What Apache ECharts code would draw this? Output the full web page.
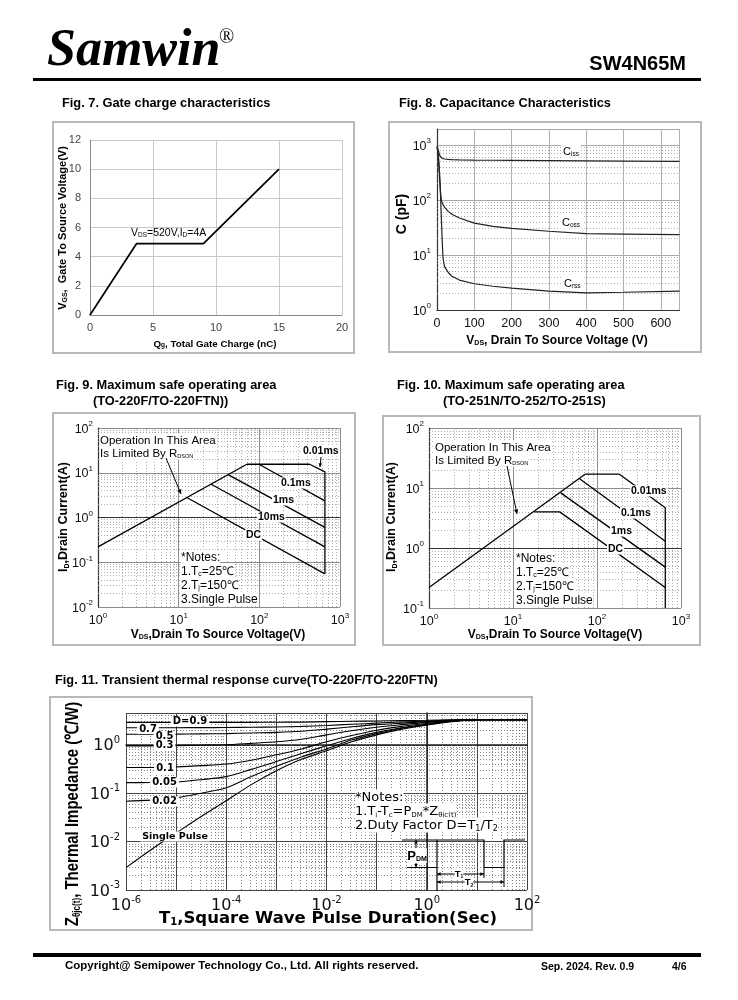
<!DOCTYPE html>
<html><head><meta charset="utf-8">
<script src="https://cdn.jsdelivr.net/npm/echarts@6.0.0/dist/echarts.min.js"></script>
<style>html,body{margin:0;padding:0;background:#fff;}#c{width:738px;height:1000px;}</style>
</head><body><div id="c"></div>
<script>
// ---------------- DATA ----------------
// Fig. 7 gate charge
const gateChargeQ = [0, 3.7, 9.0, 15.0];
const gateChargeV = [0, 4.9, 4.9, 10.0];
// Fig. 8 capacitance (V, pF)
const capV  = [0, 2, 4, 6, 8, 10, 12, 14, 16, 20, 30, 40, 60, 100, 150, 200, 300, 400, 500, 650];
const cissPF = [950, 880, 780, 690, 630, 600, 580, 570, 562, 555, 545, 540, 535, 530, 527, 525, 520, 515, 510, 505];
const cossPF = [900, 800, 520, 320, 190, 125, 97, 88, 82, 74, 62, 55, 47, 38, 33, 30.5, 27, 24.5, 24, 23.5];
const crssPF = [900, 820, 620, 400, 220, 100, 40, 18, 9, 6.2, 4.8, 4.1, 3.5, 3.0, 2.7, 2.5, 2.2, 2.05, 2.1, 2.2];
// Fig. 9 SOA TO-220F (V, A)
const soa9Rdson = [[1, 0.22], [70, 15.5]];
const soa9_001ms = [[70, 15.5], [420, 15.5], [650, 10.5], [650, 0.055]];
const soa9_01ms = [[99, 15.5], [650, 2.35]];
const soa9_1ms = [[41, 9.1], [650, 0.6]];
const soa9_10ms = [[25, 5.6], [650, 0.22]];
const soa9_DC = [[12.6, 2.8], [650, 0.055]];
// Fig. 10 SOA TO-251N/TO-252 (V, A)
const soa10Rdson = [[1, 0.22], [72, 17]];
const soa10_001ms = [[72, 17], [185, 17], [650, 4.7], [650, 0.1]];
const soa10_01ms = [[62, 14.3], [650, 1.3]];
const soa10_1ms = [[37, 8.3], [650, 0.48]];
const soa10_DC = [[18, 4.0], [36, 4.0], [650, 0.22]];
// Fig. 11 transient thermal impedance (s, °C/W)
const zthT = [1e-6, 3.16e-6, 1e-5, 3.16e-5, 1e-4, 3.16e-4, 1e-3, 3.16e-3, 1e-2, 3.16e-2, 1e-1, 3.16e-1, 1, 3.16, 10, 31.6, 100];
const zthD09 = [2.9, 2.9, 2.9, 2.9, 2.9, 2.9, 2.92, 2.94, 3.0, 3.05, 3.1, 3.15, 3.2, 3.27, 3.3, 3.3, 3.3];
const zthD07 = [2.25, 2.25, 2.25, 2.26, 2.27, 2.3, 2.33, 2.4, 2.5, 2.65, 2.8, 2.95, 3.1, 3.22, 3.3, 3.3, 3.3];
const zthD05 = [1.65, 1.65, 1.66, 1.68, 1.7, 1.75, 1.8, 1.9, 2.1, 2.35, 2.6, 2.8, 3.0, 3.18, 3.3, 3.3, 3.3];
const zthD03 = [0.95, 0.95, 0.96, 0.98, 1.0, 1.07, 1.15, 1.3, 1.6, 1.95, 2.3, 2.6, 2.9, 3.15, 3.3, 3.3, 3.3];
const zthD01 = [0.34, 0.34, 0.35, 0.37, 0.4, 0.48, 0.62, 0.82, 1.15, 1.55, 2.0, 2.4, 2.75, 3.1, 3.3, 3.3, 3.3];
const zthD005 = [0.165, 0.166, 0.17, 0.19, 0.22, 0.31, 0.45, 0.66, 0.95, 1.35, 1.8, 2.25, 2.65, 3.05, 3.3, 3.3, 3.3];
const zthD002 = [0.068, 0.072, 0.08, 0.1, 0.13, 0.22, 0.36, 0.56, 0.82, 1.25, 1.7, 2.2, 2.6, 3.05, 3.3, 3.3, 3.3];
const zthSingle = [0.0029, 0.0068, 0.015, 0.033, 0.07, 0.15, 0.29, 0.5, 0.75, 1.15, 1.6, 2.1, 2.55, 3.0, 3.3, 3.3, 3.3];
// log-grid minor multipliers
const minorMult = [2, 3, 4, 5, 6, 7, 8, 9];

// ---------------- HELPERS ----------------
const SANS = '"Liberation Sans", Arial, sans-serif';
const WIDE = '"DejaVu Sans", sans-serif';
const L = v => Math.log10(v);
const logPts = arr => arr.map(p => [L(p[0]), L(p[1])]);
function minorVals(lo, hi) {
  const out = [];
  for (let n = Math.floor(lo); n < hi; n++) for (const k of minorMult) { const v = n + L(k); if (v > lo && v < hi) out.push(v); }
  return out;
}
function logLabel(size, sup, fam, color, margin, weight) {
  return {
    margin, color,
    formatter: v => { const r = Math.round(v); if (Math.abs(v - r) > 1e-6) return ''; return '{b|10}{s|' + r + '}'; },
    rich: {
      b: { fontSize: size, fontFamily: fam, fontWeight: weight || 'normal', color, verticalAlign: 'bottom', lineHeight: size + 3 },
      s: { fontSize: sup, fontFamily: fam, fontWeight: weight || 'normal', color, verticalAlign: 'top', lineHeight: sup }
    }
  };
}
function helper(idx, xs, ys, color) {
  return {
    type: 'line', xAxisIndex: idx, yAxisIndex: idx, data: [], silent: true, z: 1,
    markLine: {
      silent: true, symbol: ['none', 'none'], label: { show: false }, animation: false,
      lineStyle: { color, width: 0.8, type: [1, 2] },
      data: [...xs.map(v => ({ xAxis: v })), ...ys.map(v => ({ yAxis: v }))]
    }
  };
}
function curve(idx, data, o = {}) {
  return { type: 'line', xAxisIndex: idx, yAxisIndex: idx, data, showSymbol: false, symbol: 'none', z: 5,
    smooth: o.smooth || false,
    lineStyle: { color: o.color || '#000', width: o.width || 1.2 }, silent: true };
}
function T(x, y, text, o = {}) {
  return { type: 'text', x, y, z: o.z || 100, rotation: o.rot || 0, scaleX: o.sx || 1, silent: true,
    style: { text, fill: o.color || '#000', fontSize: o.size || 12, fontFamily: o.family || SANS,
      fontWeight: o.weight || 'normal', fontStyle: o.fstyle || 'normal', align: o.align || 'left',
      verticalAlign: o.va || 'middle', backgroundColor: o.bg, padding: o.pad, rich: o.rich } };
}
function ln(x1, y1, x2, y2, w = 1, c = '#000') {
  return { type: 'line', z: 100, silent: true, shape: { x1, y1, x2, y2 }, style: { stroke: c, lineWidth: w } };
}
function head(x1, y1, x2, y2, s = 5) {
  const a = Math.atan2(y2 - y1, x2 - x1);
  return { type: 'polygon', z: 100, silent: true, shape: { points: [[x2, y2],
    [x2 - s * Math.cos(a - 0.45), y2 - s * Math.sin(a - 0.45)], [x2 - s * Math.cos(a + 0.45), y2 - s * Math.sin(a + 0.45)]] },
    style: { fill: '#000' } };
}
function frame(x, y, w, h) {
  return { type: 'rect', z: 0, silent: true, shape: { x, y, width: w, height: h }, style: { fill: 'none', stroke: '#b8b8b8', lineWidth: 2 } };
}
const sub = (size, ssize, fam, weight, color) => ({
  n: { fontSize: size, fontFamily: fam || SANS, fontWeight: weight || 'normal', color: color || '#000', verticalAlign: 'bottom', lineHeight: size + 2 },
  s: { fontSize: ssize, fontFamily: fam || SANS, fontWeight: weight || 'normal', color: color || '#000', verticalAlign: 'bottom', lineHeight: ssize + 1 }
});

// ---------------- AXES ----------------
const noTick = { show: false };
const grids = [
  { left: 90, top: 140, width: 252, height: 175 },
  { left: 437, top: 129, width: 242.5, height: 181 },
  { left: 98, top: 428, width: 242, height: 179 },
  { left: 429, top: 428, width: 252, height: 180 },
  { left: 126, top: 713, width: 401, height: 177 }
].map(g => Object.assign(g, { containLabel: false, outerBoundsMode: 'none' }));

const xAxes = [
  { gridIndex: 0, type: 'value', min: 0, max: 20, interval: 5, axisTick: noTick,
    axisLine: { show: true, lineStyle: { color: '#8a8a8a', width: 1 } },
    splitLine: { show: true, lineStyle: { color: '#c9c9c9', width: 1 } },
    axisLabel: { fontSize: 11, color: '#444', fontFamily: SANS, margin: 7 } },
  { gridIndex: 1, type: 'value', min: 0, max: 650, interval: 100, axisTick: noTick,
    axisLine: { show: true, lineStyle: { color: '#333', width: 1.2 } },
    splitLine: { show: true, lineStyle: { color: '#b0b0b0', width: 1 } },
    axisLabel: { fontSize: 12.5, color: '#111', fontFamily: SANS, margin: 7, formatter: v => (v % 100 === 0 ? String(v) : '') } },
  { gridIndex: 2, type: 'value', min: 0, max: 3, interval: 1, axisTick: noTick,
    axisLine: { show: true, lineStyle: { color: '#333', width: 1.2 } },
    splitLine: { show: true, lineStyle: { color: '#8c8c8c', width: 1 } },
    axisLabel: logLabel(12.5, 8, SANS, '#111', 5) },
  { gridIndex: 3, type: 'value', min: 0, max: 3, interval: 1, axisTick: noTick,
    axisLine: { show: true, lineStyle: { color: '#333', width: 1.2 } },
    splitLine: { show: true, lineStyle: { color: '#8c8c8c', width: 1 } },
    axisLabel: logLabel(12.5, 8, SANS, '#111', 5) },
  { gridIndex: 4, type: 'value', min: -6, max: 2, interval: 1, axisTick: noTick,
    axisLine: { show: true, lineStyle: { color: '#222', width: 1.5 } },
    splitLine: { show: true, lineStyle: { color: '#444', width: 1 } },
    axisLabel: Object.assign(logLabel(16, 10, WIDE, '#111', 5), {
      formatter: v => { const r = Math.round(v); if (Math.abs(v - r) > 1e-6 || r % 2 !== 0) return ''; return '{b|10}{s|' + r + '}'; } }) }
];
const yAxes = [
  { gridIndex: 0, type: 'value', min: 0, max: 12, interval: 2, axisTick: noTick,
    axisLine: { show: true, lineStyle: { color: '#8a8a8a', width: 1 } },
    splitLine: { show: true, lineStyle: { color: '#c9c9c9', width: 1 } },
    axisLabel: { fontSize: 11, color: '#444', fontFamily: SANS, margin: 9 } },
  { gridIndex: 1, type: 'value', min: 0, max: 3.29, interval: 1, axisTick: noTick,
    axisLine: { show: true, lineStyle: { color: '#333', width: 1.2 } },
    splitLine: { show: true, lineStyle: { color: '#a8a8a8', width: 1 } },
    axisLabel: logLabel(12.5, 8, SANS, '#111', 6) },
  { gridIndex: 2, type: 'value', min: -2, max: 2, interval: 1, axisTick: noTick,
    axisLine: { show: true, lineStyle: { color: '#333', width: 1.2 } },
    splitLine: { show: true, lineStyle: { color: '#8c8c8c', width: 1 } },
    axisLabel: logLabel(12.5, 8, SANS, '#111', 5) },
  { gridIndex: 3, type: 'value', min: -1, max: 2, interval: 1, axisTick: noTick,
    axisLine: { show: true, lineStyle: { color: '#333', width: 1.2 } },
    splitLine: { show: true, lineStyle: { color: '#8c8c8c', width: 1 } },
    axisLabel: logLabel(12.5, 8, SANS, '#111', 5) },
  { gridIndex: 4, type: 'value', min: -3, max: 0.656, interval: 1, axisTick: noTick,
    axisLine: { show: true, lineStyle: { color: '#222', width: 1.5 } },
    splitLine: { show: true, lineStyle: { color: '#444', width: 1 } },
    axisLabel: logLabel(16, 10, WIDE, '#111', 6) }
];

// ---------------- SERIES ----------------
const series = [
  curve(0, gateChargeQ.map((q, i) => [q, gateChargeV[i]]), { width: 1.7 }),
  helper(1, [], minorVals(0, 3.29), '#9a9a9a'),
  curve(1, capV.map((v, i) => [v, L(cissPF[i])]), { width: 1.2, color: '#222' }),
  curve(1, capV.map((v, i) => [v, L(cossPF[i])]), { width: 1.2, color: '#222' }),
  curve(1, capV.map((v, i) => [v, L(crssPF[i])]), { width: 1.2, color: '#222' }),
  helper(2, minorVals(0, 3), minorVals(-2, 2), '#9a9a9a'),
  ...[soa9Rdson, soa9_001ms, soa9_01ms, soa9_1ms, soa9_10ms, soa9_DC].map(s => curve(2, logPts(s), { width: 1.3 })),
  helper(3, minorVals(0, 3), minorVals(-1, 2), '#9a9a9a'),
  ...[soa10Rdson, soa10_001ms, soa10_01ms, soa10_1ms, soa10_DC].map(s => curve(3, logPts(s), { width: 1.3 })),
  helper(4, minorVals(-6, 2), minorVals(-3, 0.656), '#666'),
  ...[zthD09, zthD07, zthD05, zthD03, zthD01, zthD005, zthD002, zthSingle].map(arr =>
    curve(4, zthT.map((t, i) => [L(t), L(arr[i])]), { width: 1.1, smooth: 0.3 }))
];

// ---------------- GRAPHICS (text, frames) ----------------
const R = Math.PI / 2;
const TB = { size: 12.8, weight: 'bold' };
const lbl = { size: 10.5, weight: 'bold', bg: '#fff', pad: [0, 1] };
const d11 = { size: 10, weight: 'bold', family: WIDE, bg: '#fff', pad: [0, 2], align: 'center' };
const g = [
  // header
  T(47, 52, 'Samwin', { size: 52, family: '"Liberation Serif", "Times New Roman", serif', weight: 'bold', fstyle: 'italic' }),
  T(219, 38, '®', { size: 20, family: '"Liberation Serif", serif' }),
  T(686, 64, 'SW4N65M', { size: 20, weight: 'bold', align: 'right' }),
  { type: 'rect', z: 100, shape: { x: 33, y: 78, width: 668, height: 3 }, style: { fill: '#000' } },
  // footer
  { type: 'rect', z: 100, shape: { x: 33, y: 953, width: 668, height: 4 }, style: { fill: '#000' } },
  T(65, 966, 'Copyright@ Semipower Technology Co., Ltd. All rights reserved.', { size: 11.5, weight: 'bold' }),
  T(541, 967, 'Sep. 2024. Rev. 0.9', { size: 10.5, weight: 'bold' }),
  T(672, 967, '4/6', { size: 10.5, weight: 'bold' }),
  // titles
  T(62, 103, 'Fig. 7. Gate charge characteristics', TB),
  T(399, 103, 'Fig. 8. Capacitance Characteristics', TB),
  T(56, 385, 'Fig. 9. Maximum safe operating area', TB),
  T(93, 401, '(TO-220F/TO-220FTN))', TB),
  T(397, 385, 'Fig. 10. Maximum safe operating area', TB),
  T(443, 401, '(TO-251N/TO-252/TO-251S)', TB),
  T(55, 680, 'Fig. 11. Transient thermal response curve(TO-220F/TO-220FTN)', TB),
  // frames
  frame(53, 122, 301, 231), frame(389, 122, 312, 230), frame(53, 413, 302, 232), frame(383, 416, 317, 229), frame(50, 697, 482, 233),
  // fig 7
  T(62, 228, '{n|V}{s|GS}{n|,  Gate To Source Voltage(V)}', { rot: R, align: 'center', rich: sub(11, 7, SANS, 'bold') }),
  T(215, 343, '{n|Q}{s|g}{n|, Total Gate Charge (nC)}', { align: 'center', rich: sub(9.8, 6.5, SANS, 'bold') }),
  T(131, 232, '{n|V}{s|DS}{n|=520V,I}{s|D}{n|=4A}', { rich: sub(10.5, 6.5, SANS, 'normal', '#222') }),
  // fig 8
  T(402, 214, 'C (pF)', { rot: R, align: 'center', size: 14, weight: 'bold' }),
  T(557, 340, '{n|V}{s|DS}{n|, Drain To Source Voltage (V)}', { align: 'center', rich: sub(12, 7, SANS, 'bold') }),
  T(561, 151, '{n|C}{s|iss}', { bg: '#fff', pad: [0, 2], rich: sub(11, 6.5, SANS, 'normal', '#222') }),
  T(560, 222, '{n|C}{s|oss}', { bg: '#fff', pad: [0, 2], rich: sub(11, 6.5, SANS, 'normal', '#222') }),
  T(562, 283, '{n|C}{s|rss}', { bg: '#fff', pad: [0, 2], rich: sub(11, 6.5, SANS, 'normal', '#222') }),
  // fig 9
  T(63, 517, '{n|I}{s|D}{n|,Drain Current(A)}', { rot: R, align: 'center', rich: sub(12.5, 7, SANS, 'bold') }),
  T(218, 634, '{n|V}{s|DS}{n|,Drain To Source Voltage(V)}', { align: 'center', rich: sub(12, 7, SANS, 'bold') }),
  T(100, 440, '{n|Operation In This Area}', { bg: '#fff', rich: sub(11.5, 5.5, SANS, 'normal', '#222') }),
  T(100, 453, '{n|Is Limited By R}{s|DSON}', { bg: '#fff', rich: sub(11.5, 5.5, SANS, 'normal', '#222') }),
  ln(166, 458, 181, 494), head(166, 458, 181, 494),
  T(302, 451, '0.01ms', lbl),
  ln(321, 457, 320, 467), head(321, 457, 320, 467, 4),
  T(280, 483, '0.1ms', lbl),
  T(272, 500, '1ms', lbl),
  T(257, 517, '10ms', lbl),
  T(245, 535, 'DC', lbl),
  T(181, 557, '{n|*Notes:}', { bg: '#fff', rich: sub(12, 7, SANS, 'normal', '#222') }),
  T(181, 571, '{n|1.T}{s|c}{n|=25℃}', { bg: '#fff', rich: sub(12, 7, SANS, 'normal', '#222') }),
  T(181, 585, '{n|2.T}{s|j}{n|=150℃}', { bg: '#fff', rich: sub(12, 7, SANS, 'normal', '#222') }),
  T(181, 598.5, '{n|3.Single Pulse}', { bg: '#fff', rich: sub(12, 7, SANS, 'normal', '#222') }),
  // fig 10
  T(391, 517, '{n|I}{s|D}{n|,Drain Current(A)}', { rot: R, align: 'center', rich: sub(12.5, 7, SANS, 'bold') }),
  T(555, 634, '{n|V}{s|DS}{n|,Drain To Source Voltage(V)}', { align: 'center', rich: sub(12, 7, SANS, 'bold') }),
  T(435, 447, '{n|Operation In This Area}', { bg: '#fff', rich: sub(11.5, 5.5, SANS, 'normal', '#222') }),
  T(435, 460, '{n|Is Limited By R}{s|DSON}', { bg: '#fff', rich: sub(11.5, 5.5, SANS, 'normal', '#222') }),
  ln(507, 466, 517, 514), head(507, 466, 517, 514),
  T(630, 491, '0.01ms', lbl),
  T(620, 513, '0.1ms', lbl),
  T(610, 531, '1ms', lbl),
  T(607, 549, 'DC', lbl),
  T(516, 558, '{n|*Notes:}', { bg: '#fff', rich: sub(12, 7, SANS, 'normal', '#222') }),
  T(516, 572, '{n|1.T}{s|c}{n|=25℃}', { bg: '#fff', rich: sub(12, 7, SANS, 'normal', '#222') }),
  T(516, 586, '{n|2.T}{s|j}{n|=150℃}', { bg: '#fff', rich: sub(12, 7, SANS, 'normal', '#222') }),
  T(516, 599.5, '{n|3.Single Pulse}', { bg: '#fff', rich: sub(12, 7, SANS, 'normal', '#222') }),
  // fig 11
  T(72, 814, '{n|Z}{s|θjc(t)}{n|, Thermal Impedance (℃/W)}', { rot: R, sx: 0.81, align: 'center', rich: sub(18.5, 10, SANS, 'bold') }),
  T(328, 918, '{n|T}{s|1}{n|,Square Wave Pulse Duration(Sec)}', { align: 'center', rich: sub(16.5, 10, WIDE, 'bold') }),
  T(190, 721.5, 'D=0.9', d11),
  T(148, 729, '0.7', d11),
  T(164.5, 736, '0.5', d11),
  T(164.5, 745, '0.3', d11),
  T(165, 768, '0.1', d11),
  T(164.5, 782.5, '0.05', d11),
  T(164.5, 801.5, '0.02', d11),
  T(175, 836.5, 'Single Pulse', Object.assign({}, d11, { size: 9.5 })),
  T(355, 797, '{n|*Notes:}', { bg: '#fff', rich: sub(13, 7, WIDE) }),
  T(355, 811, '{n|1.T}{s|j}{n|-T}{s|c}{n|=P}{s|DM}{n|*Z}{s|θjc(t)}', { bg: '#fff', rich: sub(13, 7, WIDE) }),
  T(355, 825, '{n|2.Duty Factor D=T}{s|1}{n|/T}{s|2}', { bg: '#fff', rich: sub(13, 8, WIDE) }),
  // pulse diagram
  { type: 'polyline', z: 100, silent: true, shape: { points: [[437, 891], [437, 840], [484, 840], [484, 867.5], [504, 867.5], [504, 840], [525, 840]] }, style: { stroke: '#000', lineWidth: 1.2, fill: null } },
  ln(402, 840, 437, 840), ln(407, 867.5, 437, 867.5),
  ln(416, 840, 416, 867.5), head(416, 850, 416, 840, 4), head(416, 857, 416, 867.5, 4),
  T(417, 855.5, '{n|P}{s|DM}', { align: 'center', bg: '#fff', rich: sub(13, 7, SANS, 'bold') }),
  ln(484, 867.5, 484, 878), ln(504, 867.5, 504, 887),
  ln(437, 874, 484, 874), head(450, 874, 437, 874, 4), head(470, 874, 484, 874, 4),
  T(459, 873.5, '{n|T}{s|1}', { align: 'center', bg: '#fff', rich: sub(9.5, 5, SANS, 'bold') }),
  ln(437, 882, 504, 882), head(450, 882, 437, 882, 4), head(490, 882, 504, 882, 4),
  T(469, 882, '{n|T}{s|2}', { align: 'center', bg: '#fff', rich: sub(9.5, 5, SANS, 'bold') })
];

const chart = echarts.init(document.getElementById('c'), null, { renderer: 'canvas' });
chart.setOption({
  animation: false,
  backgroundColor: '#fff',
  textStyle: { fontFamily: SANS },
  grid: grids, xAxis: xAxes, yAxis: yAxes, series, graphic: { elements: g }
});
</script></body></html>
